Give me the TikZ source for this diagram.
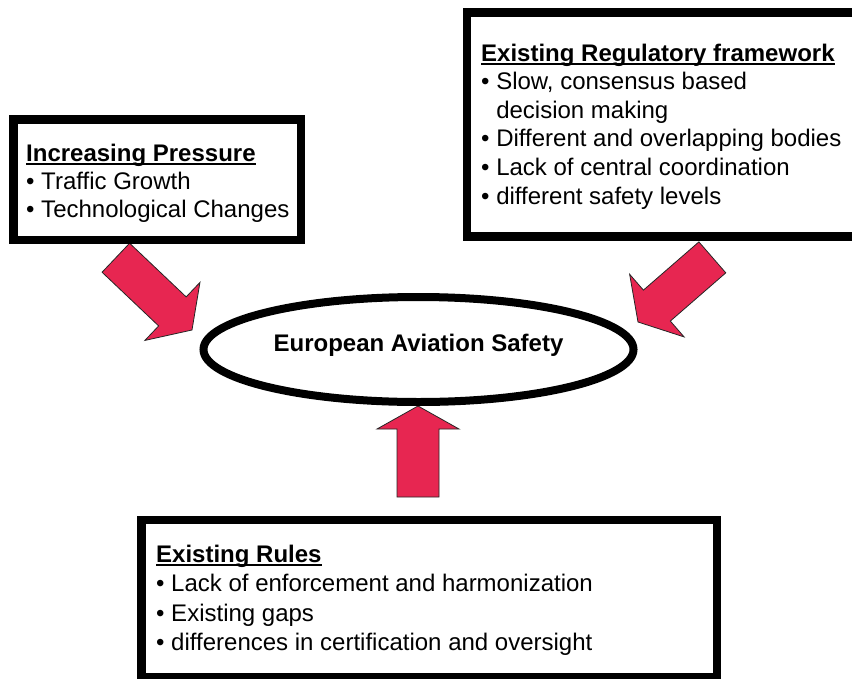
\documentclass[tikz,border=0pt]{standalone}
\usepackage{fontspec}
\setmainfont{Liberation Sans}
\usetikzlibrary{shapes.geometric}
\definecolor{arrowred}{RGB}{231,38,81}
\newcommand\hdul[1]{\setbox0\hbox{\textbf{#1}}\rlap{\rule[-4pt]{\wd0}{2pt}}\box0}
\newcommand\blkarrow[7]{\begin{scope}[shift={#2},rotate=#3]
  \draw[blockarr] (0,0) coordinate (#1) -- (-#4,#5) -- (-#4,#6) -- (-#7,#6) -- (-#7,-#6) -- (-#4,-#6) -- (-#4,-#5) -- cycle;
\end{scope}}
\begin{document}
\begin{tikzpicture}[x=1pt,y=-1pt,
  box/.style={draw=black, line width=8.5pt, rectangle, inner sep=0pt, fill=white},
  txt/.style={anchor=base west, align=left, inner sep=0pt, font=\fontsize{24}{28}\selectfont},
  blockarr/.style={fill=arrowred, draw=black!85, line width=0.8pt, line join=miter}]
\useasboundingbox (0,0) rectangle (852,678);
\clip (0,0) rectangle (852,678);
\fill[white] (0,0) rectangle (852,678);
% block arrows
\blkarrow{leftarr}{(192,330)}{-43.5}{27}{40}{20}{105}
\blkarrow{rightarr}{(638,322)}{-139}{25}{41.5}{20.5}{98.5}
\blkarrow{uparr}{(418,406)}{90}{23}{41}{21}{91}
% boxes
\node[box, minimum width=287.5pt, minimum height=120.5pt] (press) at (157,179.5) {};
\node[box, minimum width=402.75pt, minimum height=224pt] (regfw) at (668.6,124.5) {};
\node[box, minimum width=575.5pt, minimum height=157.5pt] (rules) at (429,598.5) {};
% ellipse
\node[draw=black, ellipse, line width=8pt, minimum width=430pt, minimum height=105pt, inner sep=0pt] (eas) at (418.5,349.5) {};
\node[anchor=base, inner sep=0pt, font=\fontsize{24}{28}\selectfont\bfseries] (eastxt) at (418.5,351.5) {European Aviation Safety};
% texts (anchor = baseline of the last line)
\node[txt] (presstxt) at (26,217) {\hdul{Increasing Pressure}\\• Traffic Growth\\• Technological Changes};
\node[txt, font=\fontsize{24}{28.6}\selectfont] (regtxt) at (481,204) {\hdul{Existing Regulatory framework}\\• Slow, consensus based\\\phantom{• }decision making\\• Different and overlapping bodies\\• Lack of central coordination\\• different safety levels};
\node[txt, font=\fontsize{24}{29.5}\selectfont] (rulestxt) at (156,650.5) {\hdul{Existing Rules}\\• Lack of enforcement and harmonization\\• Existing gaps\\• differences in certification and oversight};
\end{tikzpicture}
\end{document}
